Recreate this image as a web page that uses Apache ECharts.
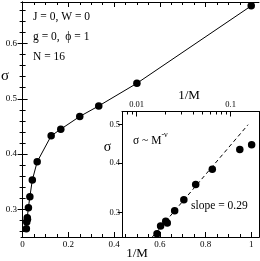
<!DOCTYPE html>
<html><head><meta charset="utf-8">
<script src="https://cdn.jsdelivr.net/npm/echarts@6/dist/echarts.min.js"></script>
<style>html,body{margin:0;padding:0;background:#fff}#c{width:260px;height:261px}</style>
</head><body><div id="c"></div>
<script>
// data
const invM  = [0.0165, 0.018, 0.0204, 0.0212, 0.0254, 0.0318, 0.0425, 0.0638, 0.125, 0.167, 0.25, 0.333, 0.5, 1.0];
const sigma = [0.265, 0.277, 0.285, 0.282, 0.303, 0.323, 0.353, 0.386, 0.433, 0.445, 0.468, 0.487, 0.528, 0.668];
const fitX = [0.0145, 0.153];
const fitY = [0.259, 0.5];
const mainXTicks = [0, 0.2, 0.4, 0.6, 0.8, 1];
const mainXMinor = [0.05, 0.1, 0.15, 0.25, 0.3, 0.35, 0.45, 0.5, 0.55, 0.65, 0.7, 0.75, 0.85, 0.9, 0.95];
const mainYTicks = [0.3, 0.4, 0.5, 0.6];
const mainYMinor = [0.26, 0.28, 0.32, 0.34, 0.36, 0.38, 0.42, 0.44, 0.46, 0.48, 0.52, 0.54, 0.56, 0.58, 0.62, 0.64, 0.66];
const insetXTicks = [0.01, 0.1];
const insetXMinor = [0.007, 0.008, 0.009, 0.02, 0.03, 0.04, 0.05, 0.06, 0.07, 0.08, 0.09, 0.2];
const insetYTicks = [0.3, 0.4, 0.5];

const F = 'Liberation Serif';
const black = '#000';
const pairs = invM.map((x, i) => [x, sigma[i]]);
const fitPairs = fitX.map((x, i) => [x, fitY[i]]);

function ax(opts) {
  return Object.assign({
    splitLine: {show: false},
    axisLine: {show: false, lineStyle: {color: black, width: 1}},
    axisTick: {show: false},
    axisLabel: {show: false},
  }, opts);
}
const lab = (vals, size, fmt, margin) => ({show: true, customValues: vals, fontFamily: F, fontSize: size, color: black, margin: margin, formatter: fmt});
const tk = (vals, len, inside) => ({show: true, customValues: vals, inside: inside, length: len, lineStyle: {color: black, width: 1}});
const fmtMain = v => { const r = Math.round(v * 10) / 10; return r === 0 ? '0' : r === 1 ? '1' : r.toFixed(1); };
const fmtLog = v => String(Math.round(v * 100) / 100);

const xr = {min: -0.007, max: 1.034};
const yr = {min: 0.25, max: 0.675};
const lxr = {min: 0.007, max: 0.2};
const lyr = {min: 0.26, max: 0.54};

const option = {
  animation: false,
  backgroundColor: '#fff',
  grid: [
    {left: 21, top: 2, right: 1, bottom: 24},
    {left: 122, top: 111.5, right: 1, bottom: 24}
  ],
  xAxis: [
    ax(Object.assign({type: 'value', gridIndex: 0, position: 'bottom', axisLine: {show: true, lineStyle: {color: black}}, axisTick: tk(mainXTicks, 5, true), axisLabel: lab(mainXTicks, 9, fmtMain, 3)}, xr)),
    ax(Object.assign({type: 'value', gridIndex: 0, position: 'bottom', axisTick: tk(mainXMinor, 3, true)}, xr)),
    ax(Object.assign({type: 'value', gridIndex: 0, position: 'top', axisLine: {show: true, lineStyle: {color: black}}, axisTick: tk(mainXTicks, 5, true)}, xr)),
    ax(Object.assign({type: 'value', gridIndex: 0, position: 'top', axisTick: tk(mainXMinor, 3, true)}, xr)),
    ax(Object.assign({type: 'log', gridIndex: 1, position: 'top', axisLine: {show: true, lineStyle: {color: black}}, axisTick: tk(insetXTicks, 5, true), axisLabel: lab(insetXTicks, 8.5, fmtLog, 2)}, lxr)),
    ax(Object.assign({type: 'log', gridIndex: 1, position: 'top', axisTick: tk(insetXMinor, 3, true)}, lxr)),
    ax(Object.assign({type: 'log', gridIndex: 1, position: 'bottom', axisLine: {show: true, lineStyle: {color: black}}}, lxr))
  ],
  yAxis: [
    ax(Object.assign({type: 'value', gridIndex: 0, position: 'left', axisLine: {show: true, lineStyle: {color: black}}, axisTick: tk(mainYTicks, 5, true), axisLabel: lab(mainYTicks, 9, fmtMain, 4)}, yr)),
    ax(Object.assign({type: 'value', gridIndex: 0, position: 'left', axisTick: tk(mainYMinor, 3, true)}, yr)),
    ax(Object.assign({type: 'value', gridIndex: 0, position: 'right', axisLine: {show: true, lineStyle: {color: black}}, axisTick: tk(mainYTicks, 5, true)}, yr)),
    ax(Object.assign({type: 'value', gridIndex: 0, position: 'right', axisTick: tk(mainYMinor, 3, true)}, yr)),
    ax(Object.assign({type: 'log', gridIndex: 1, position: 'left', axisLine: {show: true, lineStyle: {color: black}}, axisTick: tk(insetYTicks, 4, false), axisLabel: lab(insetYTicks, 8.5, fmtMain, 2)}, lyr)),
    ax(Object.assign({type: 'log', gridIndex: 1, position: 'right', axisLine: {show: true, lineStyle: {color: black}}}, lyr))
  ],
  series: [
    {type: 'line', xAxisIndex: 0, yAxisIndex: 0, data: pairs, symbol: 'circle', symbolSize: 7.5,
     itemStyle: {color: black, opacity: 1}, lineStyle: {color: black, width: 1}, z: 3},
    {type: 'scatter', xAxisIndex: 4, yAxisIndex: 4, data: pairs, symbol: 'circle', symbolSize: 7.5,
     itemStyle: {color: black, opacity: 1}, z: 3},
    {type: 'line', xAxisIndex: 4, yAxisIndex: 4, data: fitPairs, symbol: 'none', clip: true,
     lineStyle: {color: black, width: 1, type: [4, 3]}, z: 2}
  ],
  graphic: [
    {type: 'text', left: 33, top: 11, style: {text: 'J = 0, W = 0', font: '11.5px "Liberation Serif"', fill: black}},
    {type: 'text', left: 33, top: 31, style: {text: 'g = 0,  ϕ = 1', font: '11.5px "Liberation Serif"', fill: black}},
    {type: 'text', left: 33, top: 51, style: {text: 'N = 16', font: '11.5px "Liberation Serif"', fill: black}},
    {type: 'text', x: 5, y: 76, style: {text: 'σ', font: '15px "Liberation Serif"', fill: black, align: 'center', verticalAlign: 'middle'}},
    {type: 'text', x: 137, y: 254, style: {text: '1/M', font: '13px "Liberation Serif"', fill: black, align: 'center', verticalAlign: 'middle'}},
    {type: 'text', x: 189, y: 96, style: {text: '1/M', font: '13px "Liberation Serif"', fill: black, align: 'center', verticalAlign: 'middle'}},
    {type: 'text', x: 107.5, y: 147, style: {text: 'σ', font: '14px "Liberation Serif"', fill: black, align: 'center', verticalAlign: 'middle'}},
    {type: 'text', left: 133, top: 131, style: {
      text: '{a|σ ~ M}{s|-ν}',
      rich: {
        a: {fontFamily: F, fontSize: 11.5, fill: black, lineHeight: 16, verticalAlign: 'bottom'},
        s: {fontFamily: F, fontSize: 8, fill: black, lineHeight: 16, verticalAlign: 'top'}
      }}},
    {type: 'text', left: 191, top: 200, style: {text: 'slope = 0.29', font: '11.5px "Liberation Serif"', fill: black}}
  ]
};
const chart = echarts.init(document.getElementById('c'), null, {renderer: 'canvas'});
chart.setOption(option);
</script>
</body></html>
